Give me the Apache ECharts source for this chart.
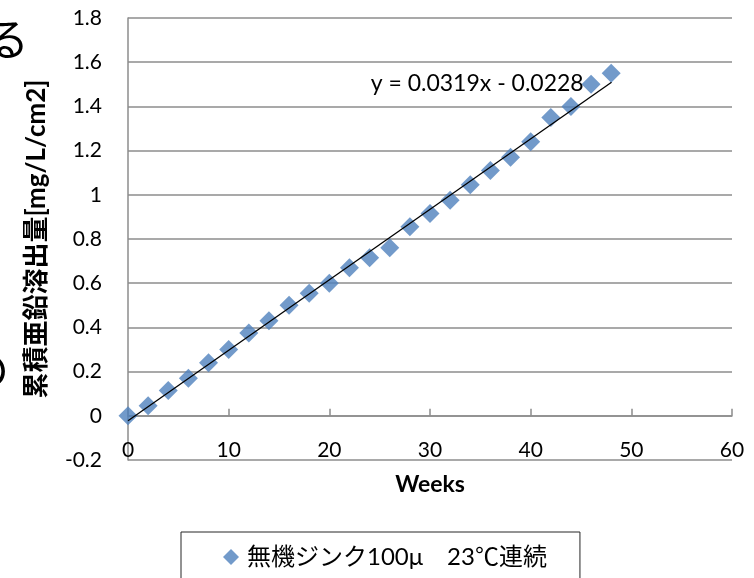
<!DOCTYPE html>
<html>
<head>
<meta charset="utf-8">
<script src="https://cdn.jsdelivr.net/npm/echarts@6/dist/echarts.min.js"></script>
<style>
  html, body { margin: 0; padding: 0; background: #ffffff; }
  #chart { width: 754px; height: 578px; }
</style>
</head>
<body>
<div id="chart"></div>
<script>
// Cumulative zinc release vs. elapsed weeks
const weeks = [0, 2, 4, 6, 8, 10, 12, 14, 16, 18, 20, 22, 24, 26, 28, 30, 32, 34, 36, 38, 40, 42, 44, 46, 48];
const zincRelease = [0.00, 0.045, 0.115, 0.17, 0.24, 0.30, 0.375, 0.43, 0.50, 0.555, 0.60, 0.67, 0.715, 0.76, 0.855, 0.915, 0.975, 1.045, 1.11, 1.17, 1.24, 1.35, 1.40, 1.50, 1.55];

const seriesName = '無機ジンク100μ　23℃連続';
const xAxisTitle = 'Weeks';
const yAxisTitle = '累積亜鉛溶出量[mg/L/cm2]';

// Linear fit shown on the chart
const trendSlope = 0.0319;
const trendIntercept = -0.0228;
const trendLabel = 'y = 0.0319x - 0.0228';
const trendRange = [0, 48];

const xTicks = { min: 0, max: 60, interval: 10 };
const yTicks = { min: -0.2, max: 1.8, interval: 0.2 };

const FONT = "Lato, 'Noto Sans CJK JP', sans-serif";
const GRID_GRAY = '#8c8c8c';

const points = weeks.map((w, i) => [w, zincRelease[i]]);
const trendData = trendRange.map((x, i) => {
  const item = { value: [x, trendSlope * x + trendIntercept] };
  if (i === trendRange.length - 1) {
    item.label = {
      show: true,
      position: 'left',
      distance: 27,
      offset: [0, 1],
      formatter: trendLabel,
      fontFamily: FONT,
      fontSize: 23,
      color: '#000000'
    };
  } else {
    item.symbol = 'none';
  }
  return item;
});

const chart = echarts.init(document.getElementById('chart'), null, { renderer: 'canvas' });

chart.setOption({
  backgroundColor: '#ffffff',
  animation: false,
  textStyle: { fontFamily: FONT },
  grid: {
    left: 128, right: 22, top: 18, bottom: 118,
    containLabel: false,
    outerBoundsMode: 'none'
  },
  xAxis: {
    type: 'value',
    min: xTicks.min, max: xTicks.max, interval: xTicks.interval,
    name: xAxisTitle,
    nameLocation: 'middle',
    nameGap: 13,
    nameTextStyle: { fontFamily: FONT, fontSize: 23, fontWeight: 'bold', color: '#000000' },
    axisLine: { show: true, onZero: true, lineStyle: { color: GRID_GRAY, width: 1.5 } },
    axisTick: { show: true, inside: true, length: 7, lineStyle: { color: GRID_GRAY, width: 1.5 } },
    axisLabel: { margin: -20, fontFamily: FONT, fontSize: 21, color: '#000000' },
    splitLine: { show: false }
  },
  yAxis: {
    type: 'value',
    min: yTicks.min, max: yTicks.max, interval: yTicks.interval,
    name: yAxisTitle,
    nameLocation: 'middle',
    nameRotate: 90,
    nameGap: 78,
    nameTextStyle: { fontFamily: FONT, fontSize: 26, fontWeight: 'bold', color: '#000000' },
    axisLine: { show: true, lineStyle: { color: GRID_GRAY, width: 1.5 } },
    axisTick: { show: false },
    axisLabel: { margin: 26, fontFamily: FONT, fontSize: 21, color: '#000000' },
    splitLine: { show: true, lineStyle: { color: GRID_GRAY, width: 1.5 } }
  },
  legend: {
    data: [seriesName],
    left: 181,
    top: 532,
    icon: 'diamond',
    itemWidth: 16,
    itemHeight: 16,
    padding: [13, 33, 20, 42],
    borderColor: '#262626',
    borderWidth: 1,
    textStyle: { fontFamily: FONT, fontSize: 24, color: '#000000', padding: [0, 0, 0, 3] }
  },
  graphic: [
    {
      type: 'text',
      style: {
        text: 'る', x: 29, y: 39,
        align: 'right', verticalAlign: 'middle',
        font: "44px 'Noto Sans CJK JP'", fill: '#000000'
      }
    },
    {
      type: 'text',
      style: {
        text: 'の', x: 9, y: 370,
        align: 'right', verticalAlign: 'middle',
        font: "44px 'Noto Sans CJK JP'", fill: '#000000'
      }
    }
  ],
  series: [
    {
      name: seriesName,
      type: 'scatter',
      symbol: 'diamond',
      symbolSize: 19,
      itemStyle: { color: '#4F81BD' },
      data: points,
      z: 2
    },
    {
      name: 'trend',
      type: 'line',
      symbol: 'circle',
      symbolSize: 1,
      showSymbol: true,
      itemStyle: { color: '#000000' },
      lineStyle: { color: '#000000', width: 1.3 },
      data: trendData,
      silent: true,
      z: 3
    }
  ]
});
</script>
</body>
</html>
